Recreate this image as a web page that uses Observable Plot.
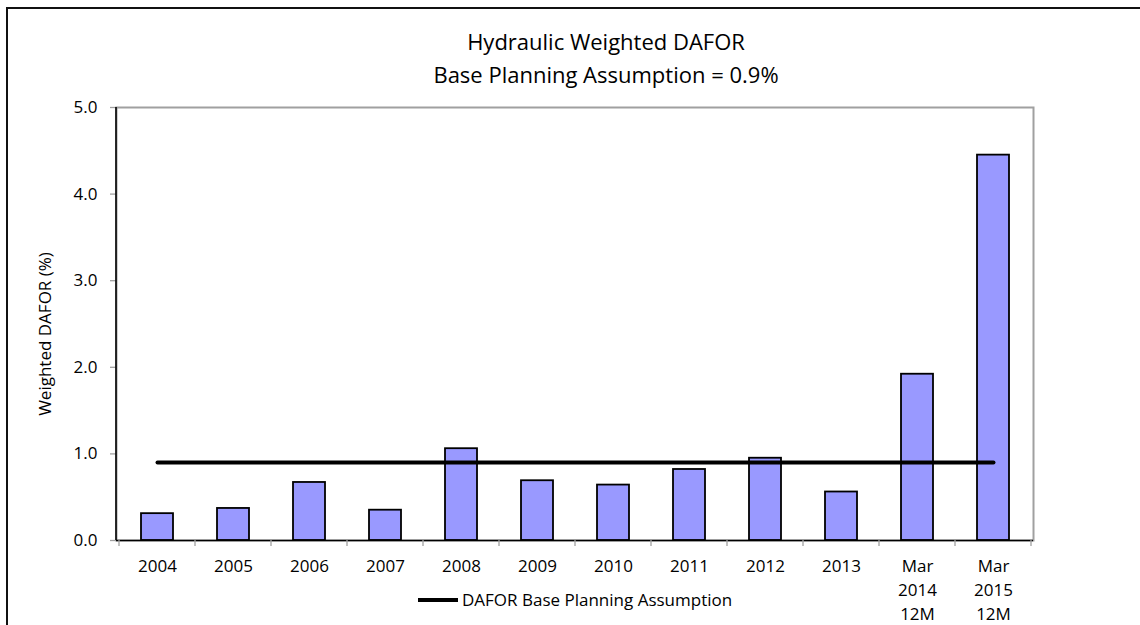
<!DOCTYPE html>
<html>
<head>
<meta charset="utf-8">
<script src="https://cdn.jsdelivr.net/npm/d3@7"></script>
<script src="https://cdn.jsdelivr.net/npm/@observablehq/plot@0.6"></script>
<style>
  html, body { margin: 0; padding: 0; background: #fff; }
  body { width: 1140px; height: 625px; overflow: hidden; font-family: "Open Sans", sans-serif; color: #000; }
  #wrap { position: relative; width: 1140px; height: 625px; }
  #frame { position: absolute; left: 6px; top: 7px; right: -4px; bottom: -4px; border-top: 2px solid #111; border-left: 2px solid #111; pointer-events: none; }
  #title { height: 65px; padding-top: 25px; position: relative; }
  #title div { position: absolute; left: 606px; transform: translateX(-50%); white-space: nowrap; font-size: 22px; line-height: 33px; text-align: center; }
  #legend { position: absolute; left: 418px; top: 588px; display: flex; align-items: center; font-size: 17px; white-space: nowrap; }
  #legend .sw { width: 40px; height: 4px; background: #000; margin-right: 4px; }
</style>
</head>
<body>
<div id="wrap">
  <div id="title"></div>
  <div id="chart"></div>
  <div id="legend"></div>
  <div id="frame"></div>
</div>
<script>
const titleLines = ["Hydraulic Weighted DAFOR", "Base Planning Assumption = 0.9%"];
const yLabel = "Weighted DAFOR (%)";
const legendLabel = "DAFOR Base Planning Assumption";
const categories = ["2004", "2005", "2006", "2007", "2008", "2009", "2010", "2011", "2012", "2013", "Mar\n2014\n12M", "Mar\n2015\n12M"];
const dafor = [0.31, 0.37, 0.67, 0.35, 1.06, 0.69, 0.64, 0.82, 0.95, 0.56, 1.92, 4.45];
const baseAssumption = [0.9, 0.9, 0.9, 0.9, 0.9, 0.9, 0.9, 0.9, 0.9, 0.9, 0.9, 0.9];
const yTicks = [0, 1, 2, 3, 4, 5];

const data = categories.map((c, i) => ({cat: c, value: dafor[i], base: baseAssumption[i]}));

// title
const t = document.getElementById("title");
const tl = document.createElement("div");
tl.innerHTML = titleLines.map(s => s.replace(/&/g, "&amp;")).join("<br>");
t.appendChild(tl);

// legend
document.getElementById("legend").innerHTML = `<span class="sw"></span><span>${legendLabel}</span>`;

const gridColor = "#a0a0a0";

const edgeMark = Plot.ruleX(categories, {
  x: d => d,
  render(index, scales, values, dims) {
    const sx = scales.x;
    const step = typeof sx.step === "function" ? sx.step() : scales.scales.x.step;
    const bw = typeof sx.bandwidth === "function" ? sx.bandwidth() : scales.scales.x.bandwidth;
    const yb = dims.height - dims.marginBottom;
    const g = d3.create("svg:g");
    const xs = categories.map(c => sx(c) - (step - bw) / 2);
    xs.push(sx(categories[categories.length - 1]) + bw + (step - bw) / 2);
    for (const x of xs) {
      g.append("line").attr("x1", x).attr("x2", x).attr("y1", yb).attr("y2", yb + 6)
        .attr("stroke", gridColor).attr("stroke-width", 1.3);
    }
    // left axis line (black)
    g.append("line").attr("x1", dims.marginLeft).attr("x2", dims.marginLeft)
      .attr("y1", dims.marginTop).attr("y2", yb).attr("stroke", "#000").attr("stroke-width", 1.6);
    return g.node();
  }
});

const chart = Plot.plot({
  width: 1140,
  height: 535,
  marginTop: 17,
  marginBottom: 85,
  marginLeft: 116,
  marginRight: 107,
  style: {fontFamily: "'Open Sans', sans-serif", fontSize: "17px", color: "#000", background: "transparent"},
  x: {domain: categories, paddingInner: 0.58, paddingOuter: 0.29, label: null},
  y: {domain: [0, 5], label: null},
  marks: [
    Plot.frame({stroke: gridColor, strokeWidth: 2}),
    Plot.axisY({ticks: yTicks, tickFormat: d3.format(".1f"), tickSize: 6, tickPadding: 13, stroke: gridColor, strokeWidth: 1.3, label: null}),
    Plot.axisX({tickSize: 0, tickPadding: 15, lineHeight: 1.4, label: null, tickFormat: d => d}),
    Plot.barY(data, {x: "cat", y: "value", fill: "#9999ff", stroke: "#000", strokeWidth: 1.8}),
    Plot.ruleY([0], {stroke: "#000", strokeWidth: 1.6}),
    edgeMark,
    Plot.lineY(data, {x: "cat", y: "base", stroke: "#000", strokeWidth: 4}),
    Plot.text([yLabel], {frameAnchor: "left", text: d => d, rotate: -90, dx: -71, dy: 10, textAnchor: "middle", lineAnchor: "middle", fontSize: 17})
  ]
});
document.getElementById("chart").appendChild(chart);
</script>
</body>
</html>
